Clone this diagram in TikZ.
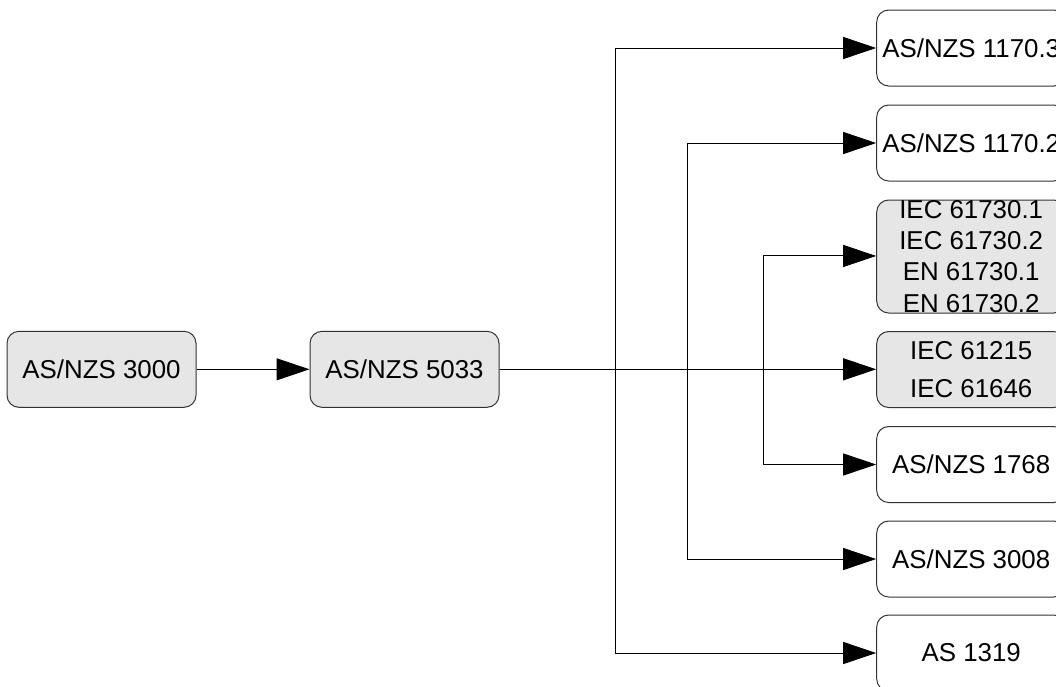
\documentclass[tikz,border=0pt]{standalone}
\usepackage{fontspec}
\setmainfont{Liberation Sans}
\usetikzlibrary{arrows.meta}
\definecolor{boxfill}{HTML}{E6E6E6}
\definecolor{boxline}{HTML}{333333}
\tikzset{
  stdbox/.style={draw=boxline, line width=0.75pt, rounded corners=9pt,
    minimum width=141.75pt, minimum height=57pt, inner sep=0pt,
    align=center, font=\fontsize{19.4}{23.3}\selectfont},
  grey/.style={fill=boxfill},
  white/.style={fill=white},
  arr/.style={draw=black, line width=0.75pt,
    -{Triangle[length=24.75pt,width=16.5pt]}},
}
\begin{document}
\begin{tikzpicture}[x=0.75pt,y=-0.75pt]
\clip (0,0) rectangle (1056,686);
\useasboundingbox (0,0) rectangle (1056,686);
\node[stdbox,grey] (b1) at (101.5,369.3) {AS/NZS 3000};
\node[stdbox,grey] (b2) at (404.5,369.3) {AS/NZS 5033};
\node[stdbox,white] (t1) at (971.2,48) {AS/NZS 1170.3};
\node[stdbox,white] (t2) at (971.2,143) {AS/NZS 1170.2};
\node[stdbox,grey,minimum height=84.75pt] (t3) at (971.2,256.5) {IEC 61730.1\\IEC 61730.2\\EN 61730.1\\EN 61730.2};
\node[stdbox,grey,font=\fontsize{19.4}{28.2}\selectfont] (t4) at (971.2,369.5) {IEC 61215\\IEC 61646};
\node[stdbox,white] (t5) at (971.2,464.5) {AS/NZS 1768};
\node[stdbox,white] (t6) at (971.2,559) {AS/NZS 3008};
\node[stdbox,white] (t7) at (971.2,653) {AS 1319};
\coordinate (v1) at (615.7,369.3);
\coordinate (v2) at (687.7,369.3);
\coordinate (v3) at (763.3,369.3);
\draw[arr] (b1) -- (b2);
\draw[arr] (b2.east) -- (t4.west |- b2.east);
\draw[arr] (b2.east) -- (v1) |- (t1.west);
\draw[arr] (b2.east) -- (v2) |- (t2.west);
\draw[arr] (b2.east) -- (v3) |- ([yshift=0.4pt]t3.west);
\draw[arr] (b2.east) -- (v3) |- (t5.west);
\draw[arr] (b2.east) -- (v2) |- (t6.west);
\draw[arr] (b2.east) -- (v1) |- (t7.west);
\end{tikzpicture}
\end{document}
